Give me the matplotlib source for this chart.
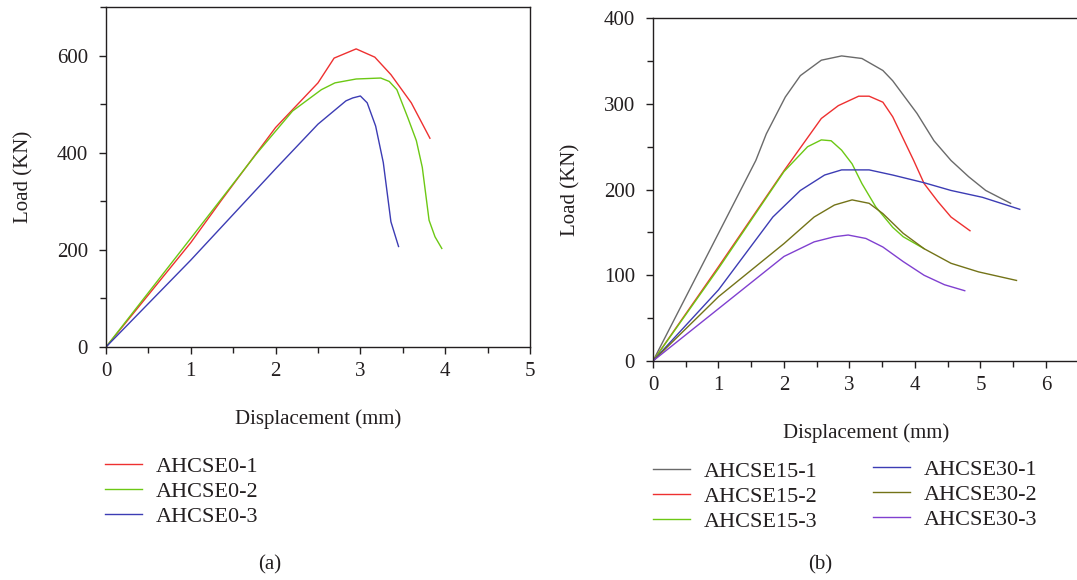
import matplotlib.pyplot as plt
from matplotlib.ticker import MultipleLocator

plt.rcParams['font.family'] = 'Liberation Serif'
plt.rcParams['font.size'] = 15
TXT = '#231f20'

# (a) AHCSE0 series
a1_x = [0, 1.0, 1.36, 2.0, 2.5, 2.69, 2.95, 3.17, 3.36, 3.6, 3.82]
a1_y = [0, 215, 302, 452, 544, 595, 614, 597, 561, 503, 430]
a2_x = [0, 1.0, 1.77, 2.2, 2.54, 2.7, 2.95, 3.24, 3.34, 3.43, 3.56, 3.66, 3.73, 3.81, 3.88, 3.96]
a2_y = [0, 224, 397, 486, 530, 544, 552, 554, 547, 530, 472, 425, 370, 261, 227, 203]
a3_x = [0, 1.0, 2.0, 2.5, 2.83, 2.91, 3.0, 3.08, 3.18, 3.27, 3.36, 3.45]
a3_y = [0, 179, 367, 459, 507, 513, 517, 503, 455, 380, 258, 207]

# (b) AHCSE15 / AHCSE30 series
b1_x = [0, 1.0, 1.57, 1.73, 2.02, 2.25, 2.57, 2.88, 3.19, 3.51, 3.66, 4.03, 4.29, 4.55, 4.82, 5.08, 5.46]
b1_y = [0, 149, 234, 265, 308, 333, 351, 356, 353, 339, 327, 289, 257, 234, 215, 199, 184]
b2_x = [0, 1.0, 2.0, 2.57, 2.83, 3.14, 3.3, 3.51, 3.66, 3.98, 4.14, 4.35, 4.55, 4.84]
b2_y = [0, 110, 222, 283, 298, 309, 309, 302, 285, 234, 207, 186, 168, 152]
b3_x = [0, 1.0, 2.0, 2.36, 2.57, 2.72, 2.88, 3.04, 3.19, 3.4, 3.66, 3.82, 4.14]
b3_y = [0, 108, 221, 250, 258, 257, 246, 230, 207, 180, 156, 145, 131]
c1_x = [0, 1.0, 1.41, 1.83, 2.25, 2.62, 2.88, 3.3, 3.66, 4.14, 4.55, 5.03, 5.6]
c1_y = [0, 83, 125, 168, 199, 217, 223, 223, 217, 208, 199, 191, 177]
c2_x = [0, 1.0, 2.0, 2.46, 2.77, 3.04, 3.3, 3.51, 3.82, 4.14, 4.55, 4.97, 5.55]
c2_y = [0, 75, 137, 168, 182, 188, 184, 172, 149, 131, 114, 104, 94]
c3_x = [0, 1.0, 2.0, 2.46, 2.77, 2.98, 3.25, 3.51, 3.82, 4.14, 4.45, 4.76]
c3_y = [0, 61, 122, 139, 145, 147, 143, 133, 116, 100, 89, 82]

fig = plt.figure(figsize=(10.77, 5.8), dpi=100)


def style_axes(ax):
    ax.tick_params(which='both', direction='out', colors=TXT, labelcolor=TXT, width=1.0)
    ax.tick_params(which='major', length=5)
    ax.tick_params(which='minor', length=4)
    ax.tick_params(axis='x', which='major', pad=6)
    ax.tick_params(axis='y', which='major', pad=8)
    for s in ax.spines.values():
        s.set_color(TXT)
        s.set_linewidth(1.0)
    ax.set_xlabel('Displacement (mm)', color=TXT, labelpad=20)
    ax.set_ylabel('Load (KN)', color=TXT, labelpad=17)


def add_legend(handles, x, y):
    fig.legend(handles=handles, loc='upper left', bbox_to_anchor=(x, y),
               frameon=False, handlelength=1.65, handletextpad=0.65, labelspacing=0.2,
               borderpad=0, borderaxespad=0, fontsize=16, labelcolor=TXT)


# panel (a)
ax1 = fig.add_axes([0.0984, 0.4017, 0.3937, 0.586])
l1, = ax1.plot(a1_x, a1_y, color='#ee3030', lw=1.0, label='AHCSE0-1')
l2, = ax1.plot(a2_x, a2_y, color='#6cc814', lw=1.0, label='AHCSE0-2')
l3, = ax1.plot(a3_x, a3_y, color='#3c3cb4', lw=1.0, label='AHCSE0-3')
ax1.set_xlim(0, 5)
ax1.set_ylim(0, 700)
ax1.xaxis.set_major_locator(MultipleLocator(1))
ax1.xaxis.set_minor_locator(MultipleLocator(0.5))
ax1.yaxis.set_major_locator(MultipleLocator(200))
ax1.yaxis.set_minor_locator(MultipleLocator(100))
style_axes(ax1)
add_legend([l1, l2, l3], 0.0975, 0.213)
fig.text(0.2507, 0.026, '(a)', ha='center', va='center', color=TXT)

# panel (b)
ax2 = fig.add_axes([0.6063, 0.3776, 0.3953, 0.591])
m1, = ax2.plot(b1_x, b1_y, color='#6a6a6a', lw=1.0, label='AHCSE15-1')
m2, = ax2.plot(b2_x, b2_y, color='#ee3030', lw=1.0, label='AHCSE15-2')
m3, = ax2.plot(b3_x, b3_y, color='#6cc814', lw=1.0, label='AHCSE15-3')
n1, = ax2.plot(c1_x, c1_y, color='#3c3cb4', lw=1.0, label='AHCSE30-1')
n2, = ax2.plot(c2_x, c2_y, color='#737318', lw=1.0, label='AHCSE30-2')
n3, = ax2.plot(c3_x, c3_y, color='#8040d0', lw=1.0, label='AHCSE30-3')
ax2.set_xlim(0, 6.5)
ax2.set_ylim(0, 400)
ax2.xaxis.set_major_locator(MultipleLocator(1))
ax2.xaxis.set_minor_locator(MultipleLocator(0.5))
ax2.yaxis.set_major_locator(MultipleLocator(100))
ax2.yaxis.set_minor_locator(MultipleLocator(50))
ax2.spines['right'].set_visible(False)
style_axes(ax2)
add_legend([m1, m2, m3], 0.6063, 0.204)
add_legend([n1, n2, n3], 0.8106, 0.208)
fig.text(0.7613, 0.026, '(b)', ha='center', va='center', color=TXT)

fig.savefig('out.png', dpi=100, facecolor='white')
